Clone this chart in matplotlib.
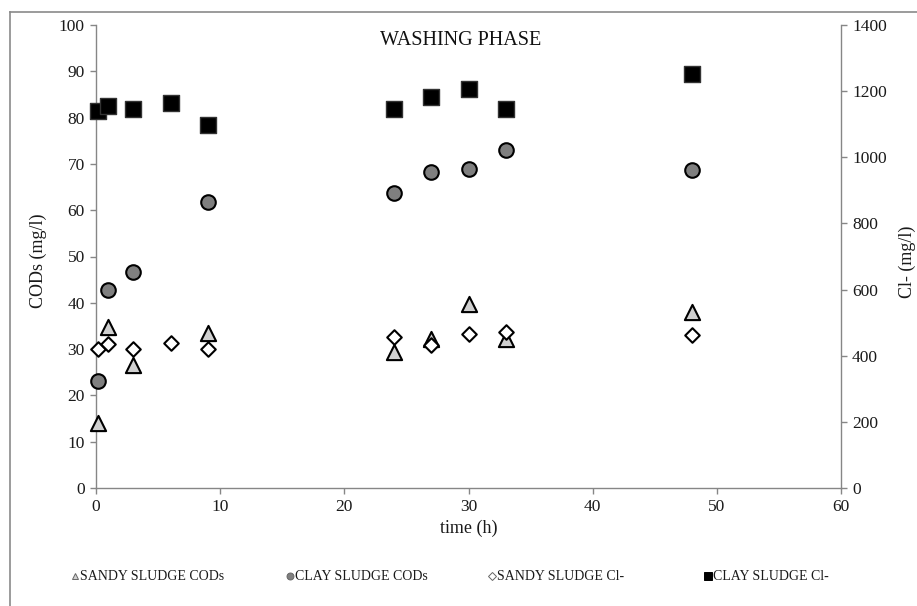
import matplotlib
matplotlib.use("Agg")
import matplotlib.pyplot as plt
from matplotlib.lines import Line2D

plt.rcParams["font.family"] = ["Liberation Serif", "DejaVu Serif"]

# time (h) and measured values
t_cod = [0.15, 1, 3, 9, 24, 27, 30, 33, 48]
sandy_cod = [14.0, 34.8, 26.5, 33.4, 29.4, 32.1, 39.8, 32.1, 38.1]
clay_cod = [23.2, 42.7, 46.6, 61.8, 63.8, 68.2, 68.9, 73.1, 68.6]

t_cl = [0.15, 1, 3, 6, 9, 24, 27, 30, 33, 48]
sandy_cl = [421, 436, 421, 439, 421, 457, 431, 465, 473, 463]
clay_cl = [1141, 1154, 1145, 1163, 1097, 1146, 1182, 1205, 1146, 1251]

labels = ["SANDY SLUDGE CODs", "CLAY SLUDGE CODs", "SANDY SLUDGE Cl-", "CLAY SLUDGE Cl-"]

GREY = "#868686"
TXT = "#1a1a1a"

fig = plt.figure(figsize=(9.17, 6.06), dpi=100)
ax = fig.add_axes([96 / 917, 1 - 488 / 606, 745 / 917, 463 / 606])
ax2 = ax.twinx()

ax.scatter(t_cod, sandy_cod, marker="^", s=120, facecolor="#d0d0d0",
           edgecolor="black", linewidths=1.5, zorder=3, clip_on=False)
ax.scatter(t_cod, clay_cod, marker="o", s=110, facecolor="#7f7f7f",
           edgecolor="black", linewidths=1.5, zorder=3, clip_on=False)
ax2.scatter(t_cl, sandy_cl, marker="D", s=55, facecolor="white",
            edgecolor="black", linewidths=1.5, zorder=3, clip_on=False)
ax2.scatter(t_cl, clay_cl, marker="s", s=120, facecolor="black",
            edgecolor="#333333", linewidths=1.0, zorder=3, clip_on=False)

ax.set_xlim(0, 60)
ax.set_ylim(0, 100)
ax2.set_ylim(0, 1400)
ax.set_xticks(range(0, 61, 10))
ax.set_yticks(range(0, 101, 10))
ax2.set_yticks(range(0, 1401, 200))

for a in (ax, ax2):
    a.spines["top"].set_visible(False)
    for s in ("left", "right", "bottom"):
        a.spines[s].set_color(GREY)
        a.spines[s].set_linewidth(1.0)
    a.tick_params(colors=GREY, length=4, width=1.0, labelsize=12.5,
                  labelcolor=TXT, direction="out", pad=4)
ax2.spines["left"].set_visible(False)
ax2.spines["bottom"].set_visible(False)
ax.spines["right"].set_visible(False)

ax.set_ylabel("CODs (mg/l)", fontsize=13, color=TXT)
ax.yaxis.set_label_coords(-0.066, 0.49)
ax2.set_ylabel("Cl- (mg/l)", fontsize=13, color=TXT)
ax2.yaxis.set_label_coords(1.077, 0.488)
ax.set_xlabel("time (h)", fontsize=13, color=TXT, labelpad=3)

ax.text(0.49, 0.966, "WASHING PHASE", transform=ax.transAxes, ha="center",
        va="center", fontsize=14.5, color="#111111")

# legend row drawn by hand to match the spacing of the original
leg_y = 1 - 576 / 606
leg_x = [75, 290, 492, 708]
leg_style = [
    dict(marker="^", ms=5, mfc="#d0d0d0", mec="#666666", mew=0.7),
    dict(marker="o", ms=5, mfc="#7f7f7f", mec="#666666", mew=0.7),
    dict(marker="D", ms=4, mfc="white", mec="#666666", mew=0.7),
    dict(marker="s", ms=5.5, mfc="black", mec="black", mew=0.7),
]
for x, lab, st in zip(leg_x, labels, leg_style):
    fig.add_artist(Line2D([x / 917], [leg_y], ls="", transform=fig.transFigure, **st))
    fig.text((x + 5) / 917, leg_y, lab, ha="left", va="center", fontsize=10, color=TXT)

# outer chart frame (only top and left edges visible)
fig.add_artist(Line2D([10 / 917, 1], [1 - 12 / 606, 1 - 12 / 606],
                      transform=fig.transFigure, color="#8a8a8a", lw=1.2))
fig.add_artist(Line2D([10 / 917, 10 / 917], [0, 1 - 12 / 606],
                      transform=fig.transFigure, color="#8a8a8a", lw=1.2))

fig.savefig("out.png", dpi=100, facecolor="white")
